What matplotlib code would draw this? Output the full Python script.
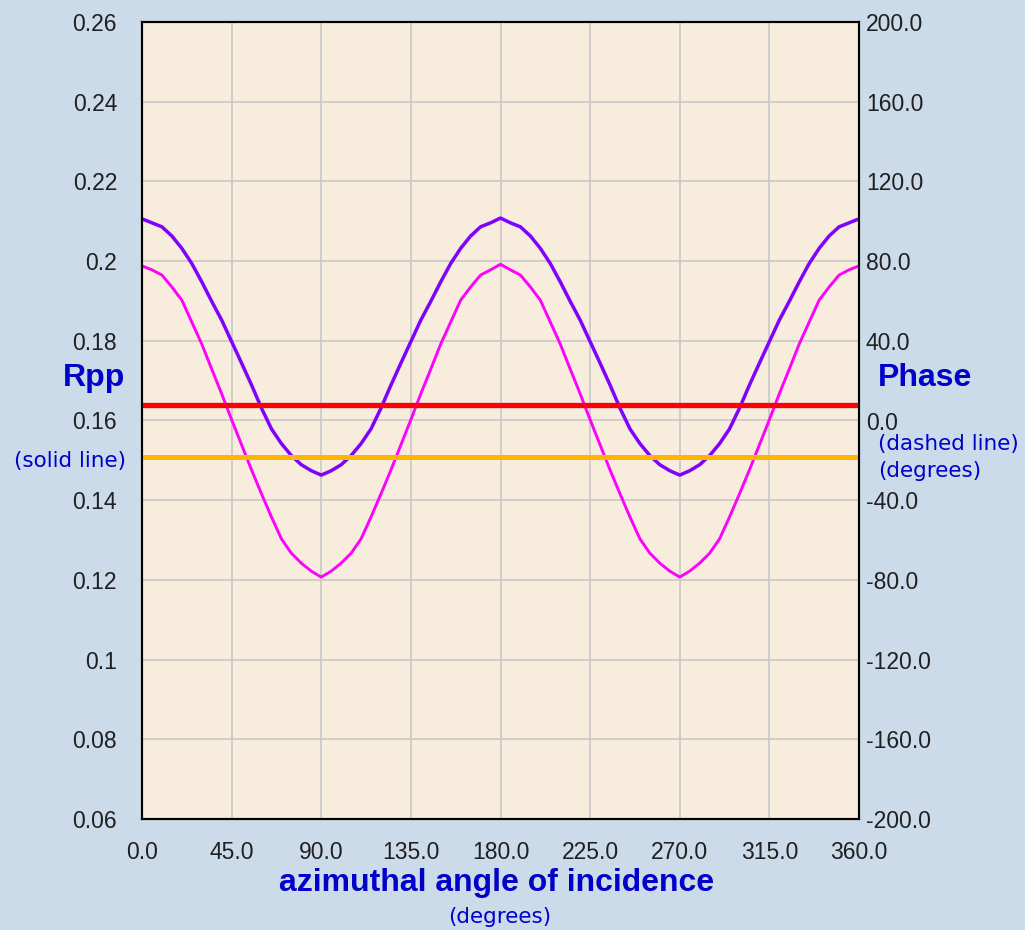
import numpy as np
import matplotlib
matplotlib.use("Agg")
import matplotlib.pyplot as plt
from matplotlib.ticker import FixedLocator, FixedFormatter

# azimuth samples (degrees)
azimuth = list(range(0, 365, 5))

# Rpp, solid lines
rpp_purple = [
    0.2106, 0.2096, 0.2086, 0.2063, 0.2032, 0.1994, 0.1948, 0.1899, 0.1852, 0.1798,
    0.1744, 0.1689, 0.1631, 0.1579, 0.1542, 0.1512, 0.1489, 0.1474, 0.1463,
    0.1474, 0.1489, 0.1512, 0.1542, 0.1579, 0.1631, 0.1689, 0.1744, 0.1798,
    0.1852, 0.1899, 0.1948, 0.1994, 0.2032, 0.2063, 0.2086, 0.2096, 0.2108,
    0.2096, 0.2086, 0.2063, 0.2032, 0.1994, 0.1948, 0.1899, 0.1852, 0.1798,
    0.1744, 0.1689, 0.1631, 0.1579, 0.1542, 0.1512, 0.1489, 0.1474, 0.1463,
    0.1474, 0.1489, 0.1512, 0.1542, 0.1579, 0.1631, 0.1689, 0.1744, 0.1798,
    0.1852, 0.1899, 0.1948, 0.1994, 0.2032, 0.2063, 0.2086, 0.2096, 0.2106,
]
rpp_magenta = [
    0.1988, 0.1978, 0.1965, 0.1935, 0.1902, 0.1847, 0.1792, 0.1729, 0.1667, 0.1602,
    0.1539, 0.1476, 0.1416, 0.1358, 0.1303, 0.1267, 0.1242, 0.1222, 0.1207,
    0.1222, 0.1242, 0.1267, 0.1303, 0.1358, 0.1416, 0.1476, 0.1539, 0.1602,
    0.1667, 0.1729, 0.1792, 0.1847, 0.1902, 0.1935, 0.1965, 0.1978, 0.1992,
    0.1978, 0.1965, 0.1935, 0.1902, 0.1847, 0.1792, 0.1729, 0.1667, 0.1602,
    0.1539, 0.1476, 0.1416, 0.1358, 0.1303, 0.1267, 0.1242, 0.1222, 0.1207,
    0.1222, 0.1242, 0.1267, 0.1303, 0.1358, 0.1416, 0.1476, 0.1539, 0.1602,
    0.1667, 0.1729, 0.1792, 0.1847, 0.1902, 0.1935, 0.1965, 0.1978, 0.1988,
]

# phase (degrees), constant over azimuth
phase_red = [8.0] * len(azimuth)
phase_orange = [-18.2] * len(azimuth)

x_ticks = [0, 45, 90, 135, 180, 225, 270, 315, 360]
x_labels = ["0.0", "45.0", "90.0", "135.0", "180.0", "225.0", "270.0", "315.0", "360.0"]
y_ticks = [0.06, 0.08, 0.10, 0.12, 0.14, 0.16, 0.18, 0.20, 0.22, 0.24, 0.26]
y_labels = ["0.06", "0.08", "0.1", "0.12", "0.14", "0.16", "0.18", "0.2", "0.22", "0.24", "0.26"]
phase_ticks = [-200, -160, -120, -80, -40, 0, 40, 80, 120, 160, 200]
phase_labels = ["-200.0", "-160.0", "-120.0", "-80.0", "-40.0", "0.0",
                "40.0", "80.0", "120.0", "160.0", "200.0"]

plt.rcParams["font.family"] = ["Liberation Sans", "DejaVu Sans"]
BG = "#CBDBE9"
PLOT_BG = "#F8ECDC"
BLUE = "#0000C8"
SMALL = ["DejaVu Sans"]

fig = plt.figure(figsize=(10.25, 9.3), dpi=100, facecolor=BG)
ax = fig.add_axes([142 / 1025, 1 - 819 / 930, 717 / 1025, 797 / 930])
ax.set_facecolor(PLOT_BG)

ax.set_xlim(0, 360)
ax.set_ylim(0.06, 0.26)
ax.xaxis.set_major_locator(FixedLocator(x_ticks))
ax.xaxis.set_major_formatter(FixedFormatter(x_labels))
ax.yaxis.set_major_locator(FixedLocator(y_ticks))
ax.yaxis.set_major_formatter(FixedFormatter(y_labels))
ax.grid(True, color="#C8C8C8", linewidth=1.2)
ax.set_axisbelow(True)
ax.tick_params(axis="x", length=0, pad=16, labelsize=16.5, colors="#202020")
ax.tick_params(axis="y", length=0, pad=18, labelsize=16.5, colors="#202020")

ax.plot(azimuth, rpp_purple, color="#8000FF", linewidth=2.5, zorder=3)
ax.plot(azimuth, rpp_magenta, color="#FF00FF", linewidth=2.1, zorder=3)

ax2 = ax.twinx()
ax2.set_ylim(-200, 200)
ax2.yaxis.set_major_locator(FixedLocator(phase_ticks))
ax2.yaxis.set_major_formatter(FixedFormatter(phase_labels))
ax2.tick_params(axis="y", length=0, pad=5, labelsize=16.5, colors="#202020")
ax2.plot(azimuth, phase_red, color="#FF0000", linewidth=3.8, zorder=2)
ax2.plot(azimuth, phase_orange, color="#FFB400", linewidth=3.6, zorder=2)

for a in (ax, ax2):
    for s in a.spines.values():
        s.set_color("black")
        s.set_linewidth(1.5)

# axis titles
fig.text(125 / 1025, 1 - 378 / 930, "Rpp", ha="right", va="center",
         color=BLUE, fontsize=23, fontweight="bold")
fig.text(126 / 1025, 1 - 461 / 930, "(solid line)", ha="right", va="center",
         color=BLUE, fontsize=15.5, family=SMALL)
fig.text(878 / 1025, 1 - 378 / 930, "Phase", ha="left", va="center",
         color=BLUE, fontsize=23, fontweight="bold")
fig.text(878 / 1025, 1 - 444 / 930, "(dashed line)", ha="left", va="center",
         color=BLUE, fontsize=15.5, family=SMALL)
fig.text(878 / 1025, 1 - 471 / 930, "(degrees)", ha="left", va="center",
         color=BLUE, fontsize=15.5, family=SMALL)
fig.text(497 / 1025, 1 - 883 / 930, "azimuthal angle of incidence", ha="center",
         va="center", color=BLUE, fontsize=23, fontweight="bold")
fig.text(500 / 1025, 1 - 917 / 930, "(degrees)", ha="center", va="center",
         color=BLUE, fontsize=15.5, family=SMALL)

fig.savefig("out.png", dpi=100, facecolor=BG)
